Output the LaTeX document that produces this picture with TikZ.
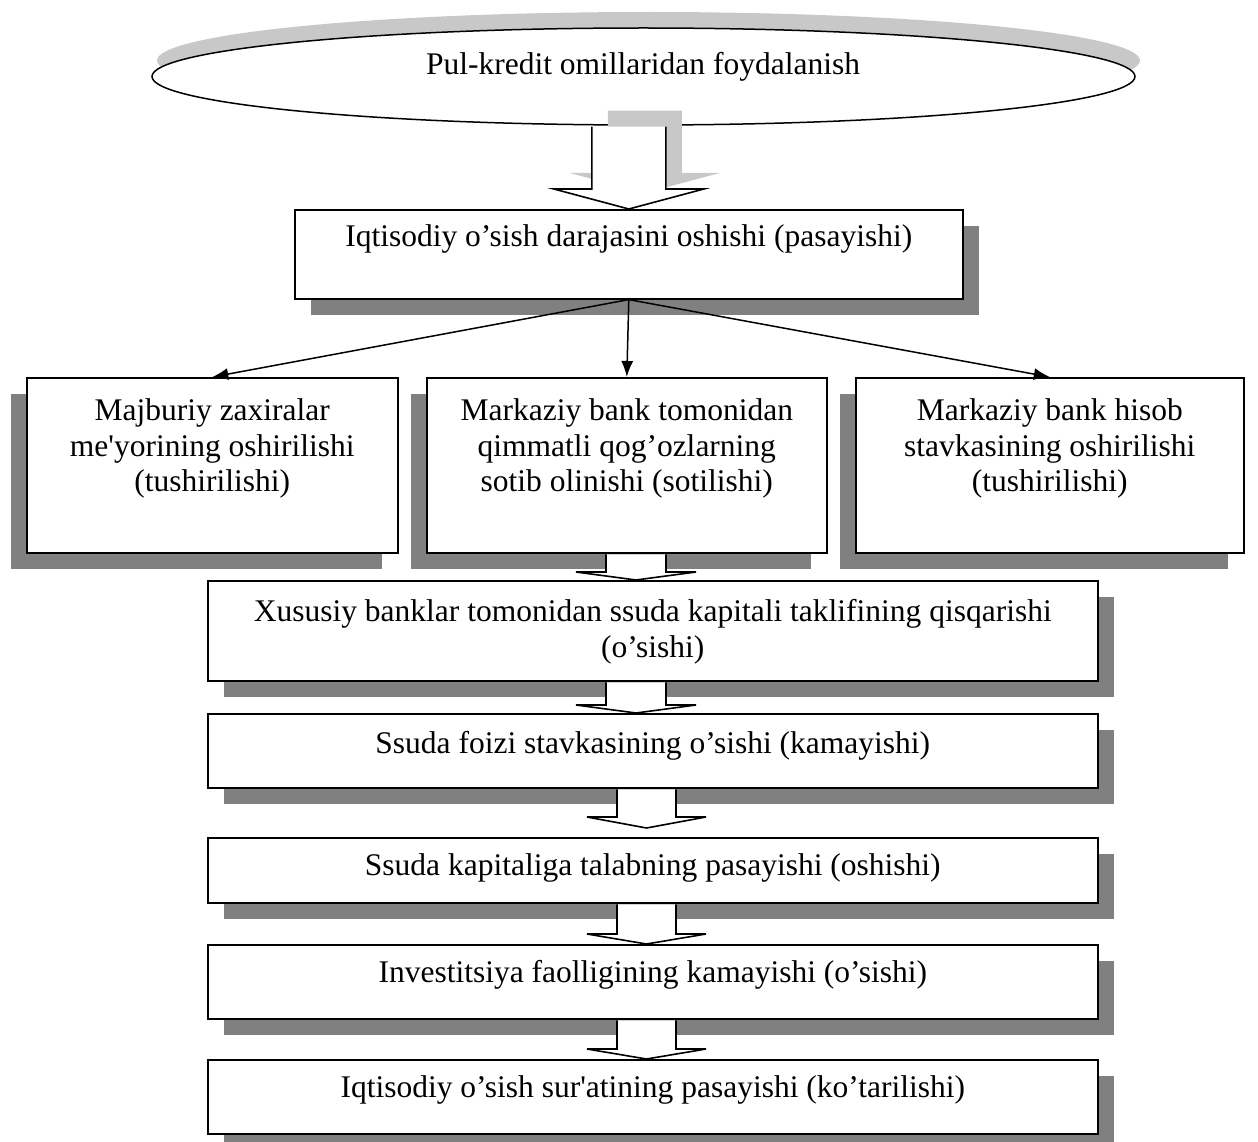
\documentclass[tikz,border=0pt]{standalone}
\usepackage{fontspec}
\setmainfont{Liberation Serif}[Ligatures=TeXOff]
\usetikzlibrary{shapes.geometric,arrows.meta,calc,shadows}
\definecolor{shd}{RGB}{128,128,128}
\definecolor{lshd}{RGB}{200,200,200}
\tikzset{
  txt/.style={font=\fontsize{31.5}{35.5}\selectfont, align=center, inner sep=0pt, anchor=north},
  box/.style={draw, line width=1.6pt, fill=white, inner sep=0pt, anchor=north west},
  shdR/.style={drop shadow={shadow xshift=16pt, shadow yshift=-16pt, opacity=1, fill=shd}},
  shdL/.style={drop shadow={shadow xshift=-16pt, shadow yshift=-16pt, opacity=1, fill=shd}},
  conn/.style={line width=1.5pt, -{Latex[length=16pt,width=12pt]}},
  barrow/.style={draw, line width=1.6pt, fill=white, line join=miter},
}
\newcommand\blockarr[6][barrow]{%
  \path[#1] let \p1=(#2), \p2=(#3) in
    (\x2-#4,\y1-0.8pt) -- (\x2-#4,\y2+#6) -- (\x2-#5,\y2+#6) -- (\x2,\y2)
    -- (\x2+#5,\y2+#6) -- (\x2+#4,\y2+#6) -- (\x2+#4,\y1-0.8pt);
}
\begin{document}
\begin{tikzpicture}[x=1pt,y=-1pt]
\useasboundingbox (0,0) rectangle (1258,1142);
% top ellipse
\node[draw, ellipse, line width=1.5pt, fill=white, minimum width=983pt, minimum height=97pt, inner sep=0pt,
  drop shadow={shadow xshift=5pt, shadow yshift=16pt, opacity=1, fill=lshd}] (ell) at (643.5,76.5) {};
\node[txt, anchor=base] (ellt) at (643,75) {Pul-kredit omillaridan foydalanish};
% first box
\node[box, shdR, minimum width=668pt, minimum height=89pt] (top) at (294,209) {};
\node[txt, anchor=base] (topt) at ([yshift=-38pt]top.north) {Iqtisodiy o’sish darajasini oshishi (pasayishi)};
% big block arrow with its shadow
\begin{scope}[transform canvas={xshift=16pt,yshift=16pt}]
\blockarr[fill=lshd]{top.north |- ell.south}{top.north}{37pt}{75pt}{20pt}
\end{scope}
\blockarr{top.north |- ell.south}{top.north}{37pt}{75pt}{20pt}
% three boxes
\node[box, shdL, minimum width=371pt, minimum height=175pt] (b1) at (26,377) {};
\node[box, shdL, minimum width=400pt, minimum height=175pt] (b2) at (426,377) {};
\node[box, shdL, minimum width=388pt, minimum height=175pt] (b3) at (855,377) {};
\node[txt] (b1t) at ([yshift=-21.5pt]b1.north) {Majburiy zaxiralar\\me'yorining oshirilishi\\(tushirilishi)};
\node[txt] (b2t) at ([yshift=-21.5pt]b2.north) {Markaziy bank tomonidan\\qimmatli qog’ozlarning\\sotib olinishi (sotilishi)};
\node[txt] (b3t) at ([yshift=-21.5pt]b3.north) {Markaziy bank hisob\\stavkasining oshirilishi\\(tushirilishi)};
\draw[conn] (top.south) -- (b1.north);
\draw[conn] (top.south) -- (b2.north);
\draw[conn] (top.south) -- (b3.north);
% lower chain
\node[box, shdR, minimum width=890pt, minimum height=100pt] (xus) at (207,580) {};
\node[box, shdR, minimum width=890pt, minimum height=74pt] (foiz) at (207,713) {};
\node[box, shdR, minimum width=890pt, minimum height=65pt] (kap) at (207,837) {};
\node[box, shdR, minimum width=890pt, minimum height=74pt] (inv) at (207,944) {};
\node[box, shdR, minimum width=890pt, minimum height=74pt] (iqt) at (207,1059) {};
\node[txt] (xust) at ([yshift=-19.5pt]xus.north) {Xususiy banklar tomonidan ssuda kapitali taklifining qisqarishi\\(o’sishi)};
\node[txt, anchor=base] (foizt) at ([yshift=-40pt]foiz.north) {Ssuda foizi stavkasining o’sishi (kamayishi)};
\node[txt, anchor=base] (kapt) at ([yshift=-38pt]kap.north) {Ssuda kapitaliga talabning pasayishi (oshishi)};
\node[txt, anchor=base] (invt) at ([yshift=-38pt]inv.north) {Investitsiya faolligining kamayishi (o’sishi)};
\node[txt, anchor=base] (iqtt) at ([yshift=-38pt]iqt.north) {Iqtisodiy o’sish sur'atining pasayishi (ko’tarilishi)};
% small block arrows
\coordinate (ax1) at (636,0);
\coordinate (ax2) at (646.5,0);
\coordinate (t3) at ([yshift=9pt]kap.north);
\blockarr{ax1 |- b2.south}{ax1 |- xus.north}{30pt}{60pt}{8pt}
\blockarr{ax1 |- xus.south}{ax1 |- foiz.north}{30pt}{60pt}{8pt}
\blockarr{ax2 |- foiz.south}{ax2 |- t3}{29.5pt}{59.5pt}{11pt}
\blockarr{ax2 |- kap.south}{ax2 |- inv.north}{29.5pt}{59.5pt}{10pt}
\blockarr{ax2 |- inv.south}{ax2 |- iqt.north}{29.5pt}{59.5pt}{10pt}
\end{tikzpicture}
\end{document}
